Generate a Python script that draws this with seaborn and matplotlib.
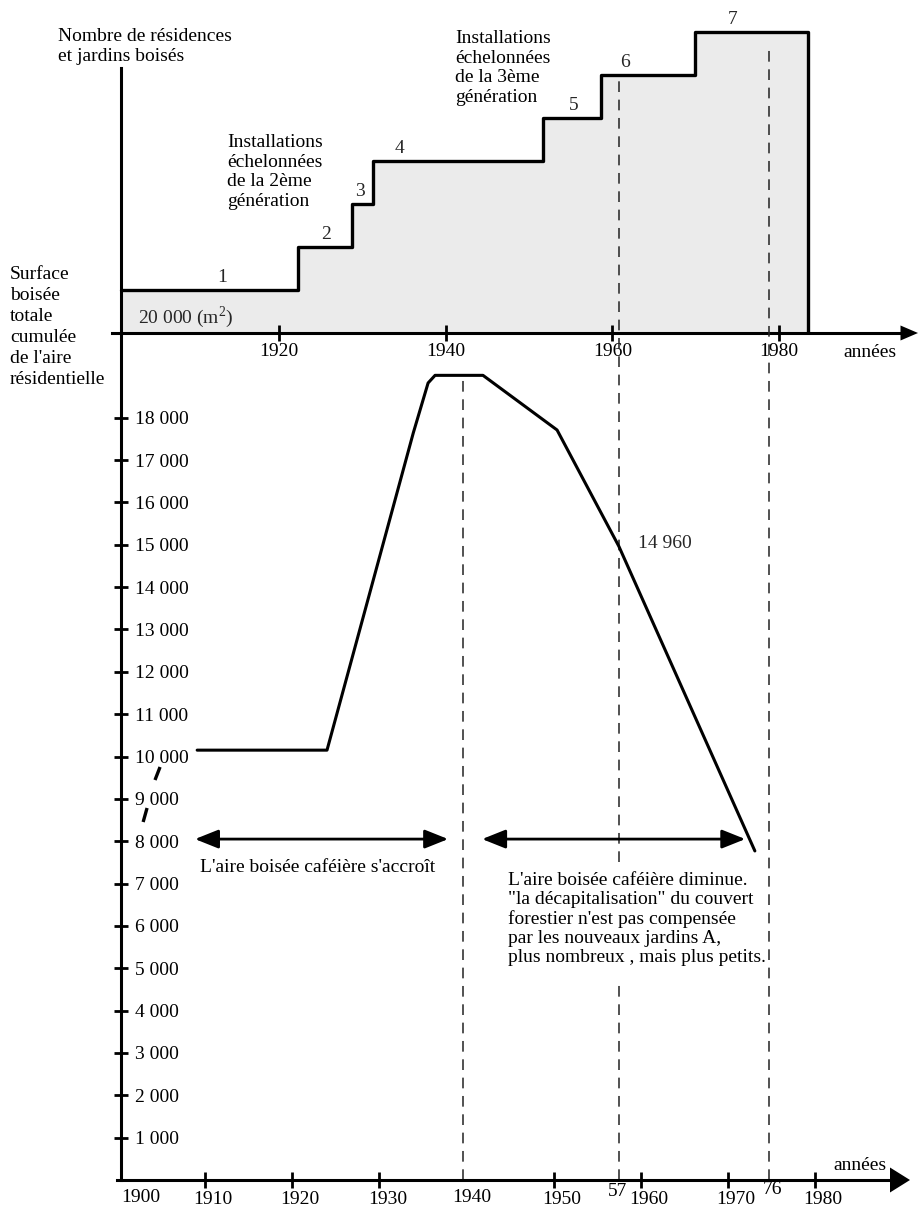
import matplotlib
matplotlib.use("Agg")
import matplotlib.pyplot as plt
import matplotlib.transforms as mtransforms
import seaborn as sns

# --- Staged installations: year of each step and number of residences / wooded gardens
step_years = [1901, 1922.2, 1928.7, 1931.3, 1951.7, 1958.6, 1969.9, 1983.5]
step_counts = [1, 2, 3, 4, 5, 6, 7, 0]
step_labels = ["1", "2", "3", "4", "5", "6", "7"]
step_label_years = [1913.1, 1925.6, 1929.7, 1934.4, 1955.3, 1961.5, 1974.5]
top_ticks = [1920, 1940, 1960, 1980]

# --- Cumulative wooded area of the residential zone (m2)
area_years = [1909.1, 1924.0, 1933.9, 1935.6, 1936.4, 1941.9, 1950.4, 1957.5, 1973.1]
area_values = [10150, 10150, 17640, 18820, 19000, 19000, 17710, 14960, 7770]
low_ticks = [1910, 1920, 1930, 1950, 1960, 1970, 1980]
y_ticks = list(range(1000, 19000, 1000))
year_1940, year_57, year_76 = 1939.6, 1957.5, 1974.7

sns.set_theme(style="white")
plt.rcParams["font.family"] = ["Liberation Serif", "DejaVu Serif"]
plt.rcParams["mathtext.fontset"] = "custom"
plt.rcParams["mathtext.rm"] = "Liberation Serif"
plt.rcParams["font.size"] = 14

W, H = 918, 1209
fig = plt.figure(figsize=(W / 100, H / 100), dpi=100)
fig.patch.set_facecolor("white")


def ftext(x, y, s, **kw):
    kw.setdefault("fontsize", 14)
    kw.setdefault("color", "black")
    fig.text(x / W, 1 - y / H, s, **kw)


def thousands(v):
    return f"{v:,}".replace(",", " ")


# ---------------- upper panel: number of residences ----------------
ax_top = fig.add_axes([112 / W, 1 - 333 / H, (908 - 112) / W, 333 / H])
ax_top.set_facecolor("none")
ax_top.set_xlim(1899.92, 1995.5)
ax_top.set_ylim(0, 333 / 43)

ax_top.fill_between(step_years, step_counts, step="post", color="#ebebeb", lw=0, zorder=0)
sns.lineplot(x=step_years, y=step_counts, drawstyle="steps-post", sort=False,
             estimator=None, color="black", lw=2.4, ax=ax_top, zorder=3)
for lbl, yr, cnt in zip(step_labels, step_label_years, step_counts):
    ax_top.annotate(lbl, (yr, cnt), xytext=(0, 3), textcoords="offset points",
                    ha="center", va="bottom", fontsize=14)

for s in ("top", "right"):
    ax_top.spines[s].set_visible(False)
ax_top.spines["left"].set_position(("data", 1901))
ax_top.spines["left"].set_bounds(0, (333 - 68) / 43)
for s in ("left", "bottom"):
    ax_top.spines[s].set_color("black")
    ax_top.spines[s].set_linewidth(2.2)
ax_top.set_xticks(top_ticks, [str(t) for t in top_ticks])
ax_top.set_yticks([])
ax_top.tick_params(axis="x", direction="inout", length=12, width=2, pad=1,
                   labelsize=14, colors="black", bottom=True)
ax_top.set_xlabel("")
ax_top.set_ylabel("")
ax_top.annotate("", xy=(918, H - 333), xytext=(880, H - 333),
                xycoords="figure pixels", textcoords="figure pixels",
                arrowprops=dict(arrowstyle="-|>,head_length=0.7,head_width=0.3",
                                mutation_scale=18, color="black", lw=0,
                                shrinkA=0, shrinkB=0))

# ---------------- lower panel: cumulative wooded area ----------------
ax_low = fig.add_axes([117 / W, 1 - 1180 / H, (901 - 117) / W, (1180 - 333) / H])
ax_low.set_facecolor("none")
ax_low.set_xlim(1899.9, 1989.87)
ax_low.set_ylim(0, 20000)

sns.lineplot(x=area_years, y=area_values, sort=False, estimator=None,
             color="black", lw=2.2, ax=ax_low, zorder=3)

dash = (0, (7, 5))
ax_low.plot([year_1940, year_1940], [0, 19000], ls=dash, lw=1.1, color="#222222")
ax_low.plot([year_57, year_57], [0, 4600], ls=dash, lw=1.1, color="#222222", clip_on=False)
ax_low.plot([year_57, year_57], [7500, 26000], ls=dash, lw=1.1, color="#222222", clip_on=False)
ax_low.plot([year_76, year_76], [0, 26700], ls=dash, lw=1.1, color="#222222", clip_on=False)

# axis-break strokes on the vertical scale
ax_low.plot([1904.26, 1904.84], [9445, 9752], color="black", lw=2.4,
            solid_capstyle="butt", clip_on=False)
ax_low.plot([1902.90, 1903.35], [8453, 8784], color="black", lw=2.4,
            solid_capstyle="butt", clip_on=False)

ax_low.annotate("14 960", (year_57, 14960), xytext=(14, 2), textcoords="offset points",
                ha="left", va="center", fontsize=14)
ax_low.annotate("20 000 (m$^{2}$)", (1902.3, 20000), xytext=(0, 2),
                textcoords="offset points", ha="left", va="bottom", fontsize=14,
                annotation_clip=False)

arrow_kw = dict(arrowstyle="<|-|>,head_length=0.55,head_width=0.22",
                mutation_scale=26, color="black", lw=2, shrinkA=0, shrinkB=0)
ax_low.annotate("", xy=(1937.9, 8050), xytext=(1908.85, 8050), arrowprops=arrow_kw)
ax_low.annotate("", xy=(1972.0, 8050), xytext=(1941.8, 8050), arrowprops=arrow_kw)

for s in ("top", "right"):
    ax_low.spines[s].set_visible(False)
ax_low.spines["left"].set_position(("data", 1900.36))
for s in ("left", "bottom"):
    ax_low.spines[s].set_color("black")
    ax_low.spines[s].set_linewidth(2.2)
ax_low.set_xticks(low_ticks, [str(t) for t in low_ticks])
ax_low.set_yticks(y_ticks, [thousands(v) for v in y_ticks])
ax_low.tick_params(axis="x", direction="inout", length=12, width=2, pad=2,
                   labelsize=14, colors="black", bottom=True)
ax_low.tick_params(axis="y", direction="inout", length=10, width=2, pad=-15,
                   labelsize=14, colors="black", left=True)
for lbl in ax_low.get_yticklabels():
    lbl.set_horizontalalignment("left")
shift = mtransforms.ScaledTranslation(8 / 100, 0, fig.dpi_scale_trans)
for lbl in ax_low.get_xticklabels():
    lbl.set_transform(lbl.get_transform() + shift)
ax_low.set_xlabel("")
ax_low.set_ylabel("")
ax_low.annotate("", xy=(910, H - 1180), xytext=(870, H - 1180),
                xycoords="figure pixels", textcoords="figure pixels",
                arrowprops=dict(arrowstyle="-|>,head_length=0.8,head_width=0.5",
                                mutation_scale=18, color="black", lw=0,
                                shrinkA=0, shrinkB=0))

# ---------------- free text ----------------
ftext(58, 28, "Nombre de résidences\net jardins boisés", va="top", ha="left", linespacing=1.2)
ftext(227, 134, "Installations\néchelonnées\nde la 2ème\ngénération", va="top", ha="left", linespacing=1.2)
ftext(455, 30, "Installations\néchelonnées\nde la 3ème\ngénération", va="top", ha="left", linespacing=1.2)
ftext(10, 266, "Surface\nboisée\ntotale\ncumulée\nde l'aire\nrésidentielle", va="top", ha="left", linespacing=1.3)
ftext(843, 352, "années", va="center", ha="left")
ftext(833, 1166, "années", va="center", ha="left")
ftext(141, 1197, "1900", va="center", ha="center")
ftext(472, 1197, "1940", va="center", ha="center")
ftext(618, 1192, "57", va="center", ha="center")
ftext(773, 1190, "76", va="center", ha="center")
ftext(200, 868, "L'aire boisée caféière s'accroît", va="center", ha="left")
ftext(508, 872, "L'aire boisée caféière diminue.\n\"la décapitalisation\" du couvert\n"
      "forestier n'est pas compensée\npar les nouveaux jardins A,\n"
      "plus nombreux , mais plus petits.", va="top", ha="left", linespacing=1.15)

fig.savefig("out.png", dpi=100, facecolor="white")
